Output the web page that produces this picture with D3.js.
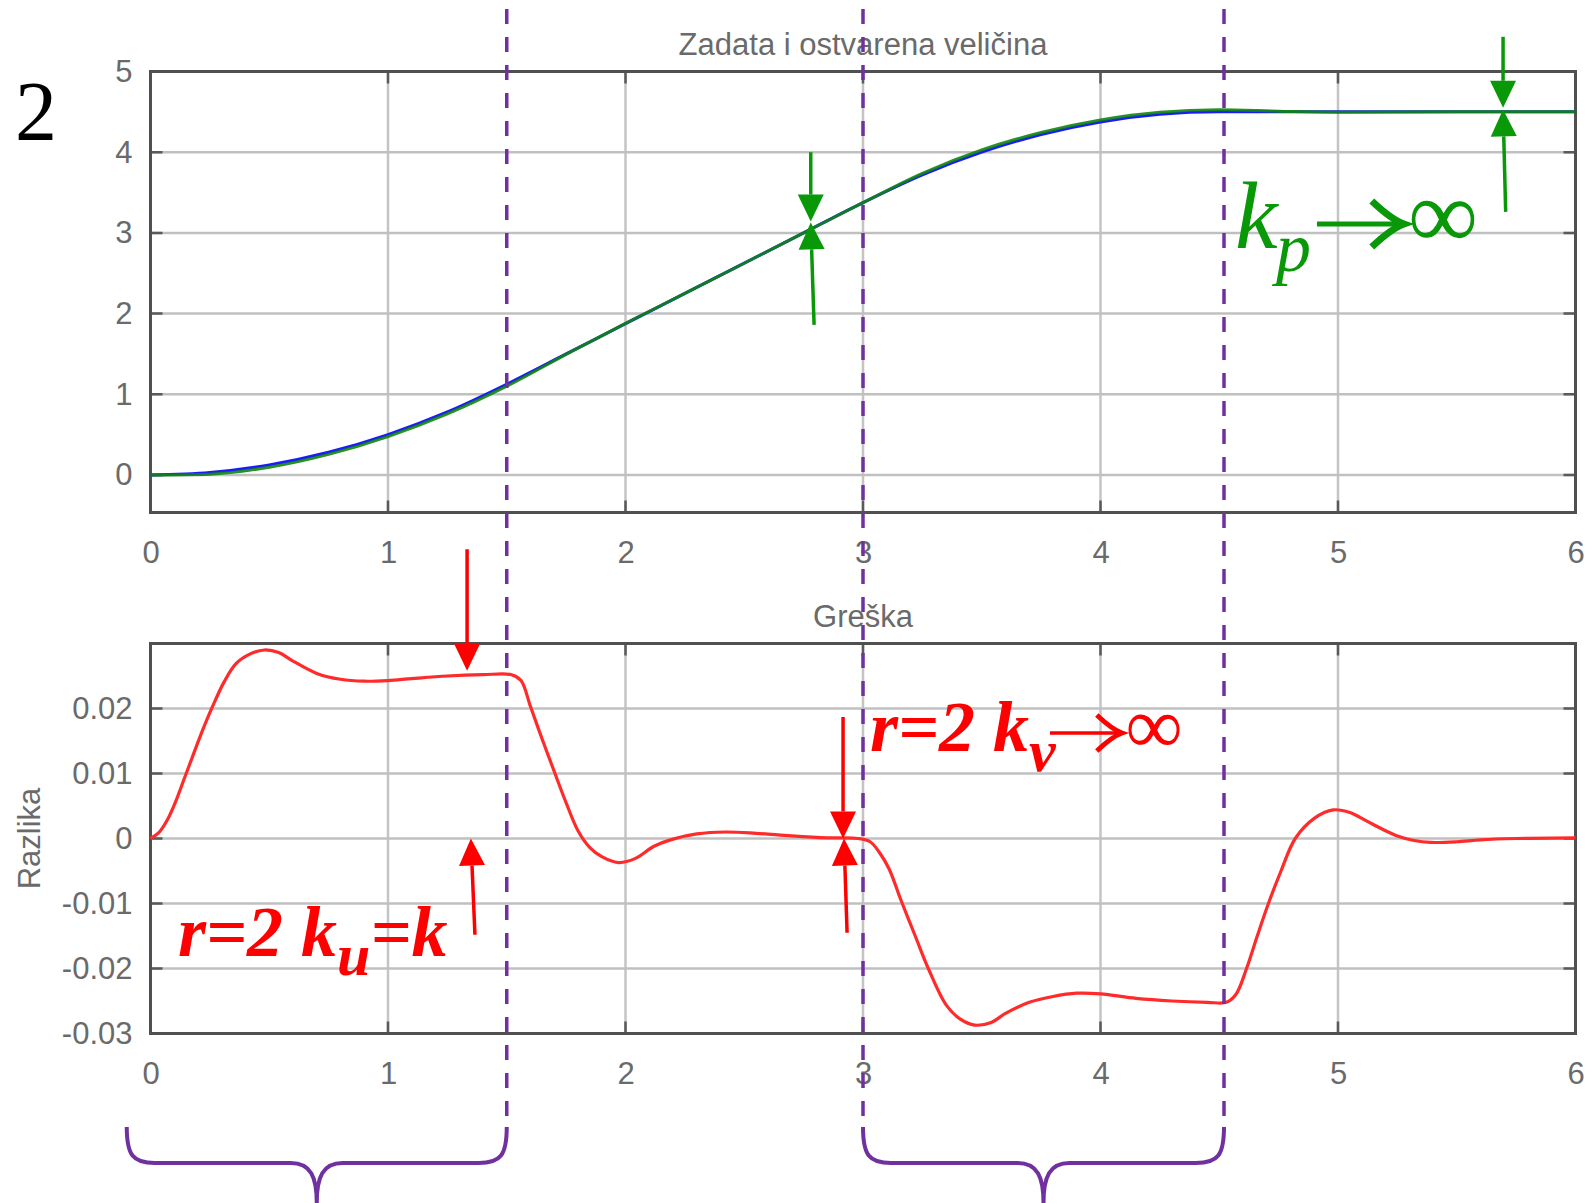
<!DOCTYPE html>
<html><head><meta charset="utf-8">
<script src="https://cdn.jsdelivr.net/npm/d3@7"></script>
<style>body{margin:0;background:#fff}svg{display:block}</style>
</head><body>
<svg id="c" width="1595" height="1203"></svg>
<script>
// ---------------- DATA ----------------
const xLim = [0, 6];
const xTicks = [0, 1, 2, 3, 4, 5, 6];
const topYLim = [-0.465, 5];
const topYTicks = [0, 1, 2, 3, 4, 5];
const botYLim = [-0.03, 0.03];
const botYTicks = [-0.03, -0.02, -0.01, 0, 0.01, 0.02];
const botYTickLabels = ["-0.03", "-0.02", "-0.01", "0", "0.01", "0.02"];
const topTitle = "Zadata i ostvarena veličina";
const botTitle = "Greška";
const botYLabel = "Razlika";
const panelNumber = "2";

// reference (blue) and output (green) in the top panel
const tTop   = [0, 0.25, 0.5, 0.75, 1, 1.25, 1.5, 1.75, 2, 2.25, 2.5, 2.75, 3, 3.25, 3.5, 3.75, 4, 4.25, 4.5, 4.75, 5, 5.5, 6];
const refTop = [0, 0.031, 0.125, 0.281, 0.5, 0.781, 1.125, 1.5, 1.875, 2.25, 2.625, 3.0, 3.375, 3.719, 4.0, 4.219, 4.375, 4.469, 4.5, 4.5, 4.5, 4.5, 4.5];
const outTop = [0, 0.010, 0.096, 0.255, 0.476, 0.756, 1.100, 1.495, 1.879, 2.250, 2.624, 3.000, 3.375, 3.738, 4.028, 4.244, 4.399, 4.494, 4.525, 4.508, 4.496, 4.5005, 4.5];

// error (red) in the bottom panel
const tErr = [0, 0.035, 0.07, 0.105, 0.14, 0.175, 0.21, 0.26, 0.31, 0.36, 0.42, 0.48, 0.54, 0.6, 0.7, 0.8, 0.9, 1.0, 1.1, 1.25, 1.4, 1.52,
  1.56, 1.6, 1.65, 1.7, 1.75, 1.8, 1.85, 1.9, 1.97, 2.04, 2.12, 2.2, 2.3, 2.42, 2.55, 2.7, 2.85, 2.98,
  3.03, 3.07, 3.11, 3.16, 3.22, 3.275, 3.35, 3.41, 3.47, 3.54, 3.6, 3.7, 3.8, 3.9, 4.0, 4.15, 4.3, 4.45, 4.53,
  4.57, 4.615, 4.66, 4.707, 4.76, 4.82, 4.9, 4.98, 5.05, 5.12, 5.2, 5.25, 5.32, 5.39, 5.5, 5.6, 5.75, 6.0];
const errVals = [0, 0.0009, 0.0028, 0.0056, 0.009, 0.0124, 0.0158, 0.0202, 0.0241, 0.0269, 0.0284, 0.029, 0.0286, 0.0273, 0.0254, 0.0245, 0.0242, 0.0243, 0.0246, 0.025, 0.0252, 0.0252,
  0.0243, 0.0203, 0.0152, 0.0103, 0.0055, 0.0012, -0.0014, -0.0028, -0.0037, -0.0031, -0.0012, -0.0001, 0.0007, 0.001, 0.0008, 0.0004, 0.0001, 0,
  -0.0005, -0.0022, -0.0047, -0.0095, -0.015, -0.02, -0.0256, -0.0278, -0.0287, -0.0283, -0.0269, -0.0252, -0.0243, -0.0238, -0.0239, -0.0246, -0.025, -0.0252, -0.0252,
  -0.024, -0.02, -0.015, -0.01, -0.005, 0, 0.0031, 0.0044, 0.004, 0.0027, 0.0012, 0.0004, -0.0003, -0.0006, -0.0005, -0.0002, 0, 0.0001];

// annotations (data coordinates)
const markerTimes = [1.5, 3, 4.52];
const braceSpans = [[-0.1, 1.5], [3, 4.52]];
const greenArrows = [
  {from: [2.78, 4.0],   to: [2.78, 3.14]},
  {from: [2.794, 1.86], to: [2.78, 3.13]},
  {from: [5.695, 5.43], to: [5.695, 4.55]},
  {from: [5.706, 3.26], to: [5.695, 4.53]}
];
const redArrows = [
  {from: [1.333, 0.0445],  to: [1.333, 0.0258]},
  {from: [1.366, -0.0148], to: [1.349, 0.0]},
  {from: [2.916, 0.0187],  to: [2.916, 0.0]},
  {from: [2.933, -0.0145], to: [2.92, 0.0]}
];

// ---------------- LAYOUT ----------------
const L = {left: 150.5, right: 1575.5, topY0: 71.5, topY1: 512.5, botY0: 643.5, botY1: 1033.5};
const SANS = "'Liberation Sans', Arial, Helvetica, sans-serif";
const SERIF = "'Liberation Serif', 'Times New Roman', serif";
const GRAY_TXT = "#6a6a6a";
const GREEN = "#089808";
const RED = "#ff0000";
const PURPLE = "#7030a0";

const svg = d3.select("#c");
svg.append("rect").attr("width", 1595).attr("height", 1203).attr("fill", "#fff");

const x = d3.scaleLinear().domain(xLim).range([L.left, L.right]);
const yT = d3.scaleLinear().domain(topYLim).range([L.topY1, L.topY0]);
const yB = d3.scaleLinear().domain(botYLim).range([L.botY1, L.botY0]);

function panel(y, yTicks, yFmt, y0, y1) {
  const g = svg.append("g");
  g.selectAll(null).data(xTicks.filter(d => d > xLim[0] && d < xLim[1])).join("line")
    .attr("x1", d => x(d)).attr("x2", d => x(d)).attr("y1", y0).attr("y2", y1)
    .attr("stroke", "#c4c4c4").attr("stroke-width", 2.5);
  g.selectAll(null).data(yTicks.filter(d => y(d) < y1 - 2 && y(d) > y0 + 2)).join("line")
    .attr("y1", d => y(d)).attr("y2", d => y(d)).attr("x1", L.left).attr("x2", L.right)
    .attr("stroke", "#c0c0c0").attr("stroke-width", 2.5);
  const tk = 12;
  g.selectAll(null).data(xTicks).join("path")
    .attr("d", d => `M${x(d)},${y0}v${tk}M${x(d)},${y1}v${-tk}`)
    .attr("stroke", "#5a5a5a").attr("stroke-width", 2.5);
  g.selectAll(null).data(yTicks).join("path")
    .attr("d", d => `M${L.left},${y(d)}h${tk}M${L.right},${y(d)}h${-tk}`)
    .attr("stroke", "#5a5a5a").attr("stroke-width", 2.5);
  g.append("rect").attr("x", L.left).attr("y", y0).attr("width", L.right - L.left).attr("height", y1 - y0)
    .attr("fill", "none").attr("stroke", "#505050").attr("stroke-width", 3);

  const ga = g.append("g").attr("transform", `translate(${L.left},0)`)
    .call(d3.axisLeft(y).tickValues(yTicks).tickFormat(yFmt).tickSize(0).tickPadding(18));
  ga.select(".domain").remove();
  ga.attr("font-size", 31).attr("font-family", SANS);
  ga.selectAll("text").attr("fill", GRAY_TXT);

  const gb = g.append("g").attr("transform", `translate(0,${y1})`)
    .call(d3.axisBottom(x).tickValues(xTicks).tickFormat(d3.format("d")).tickSize(0).tickPadding(28));
  gb.select(".domain").remove();
  gb.attr("font-size", 31).attr("font-family", SANS);
  gb.selectAll("text").attr("fill", GRAY_TXT);
  return g;
}

panel(yT, topYTicks, d3.format("d"), L.topY0, L.topY1);
panel(yB, botYTicks, (d, i) => botYTickLabels[i], L.botY0, L.botY1);

// titles
svg.append("text").attr("x", (L.left + L.right) / 2).attr("y", 55).attr("text-anchor", "middle")
  .attr("font-family", SANS).attr("font-size", 31).attr("fill", GRAY_TXT).text(topTitle);
svg.append("text").attr("x", (L.left + L.right) / 2).attr("y", 627).attr("text-anchor", "middle")
  .attr("font-family", SANS).attr("font-size", 31).attr("fill", GRAY_TXT).text(botTitle);
svg.append("text").attr("transform", `translate(40,${(L.botY0 + L.botY1) / 2}) rotate(-90)`)
  .attr("text-anchor", "middle").attr("font-family", SANS).attr("font-size", 31).attr("fill", GRAY_TXT).text(botYLabel);
svg.append("text").attr("x", 36).attr("y", 140).attr("text-anchor", "middle")
  .attr("font-family", SERIF).attr("font-size", 84).attr("fill", "#000").text(panelNumber);

// lines
const lineTop = d3.line().x(d => x(d[0])).y(d => yT(d[1])).curve(d3.curveMonotoneX);
svg.append("path").datum(d3.zip(tTop, refTop)).attr("d", lineTop)
  .attr("fill", "none").attr("stroke", "#1a1aff").attr("stroke-width", 3);
svg.append("path").datum(d3.zip(tTop, outTop)).attr("d", lineTop)
  .attr("fill", "none").attr("stroke", "#0f850f").attr("stroke-width", 3).attr("stroke-opacity", 0.9);

const lineErr = d3.line().x(d => x(d[0])).y(d => yB(d[1])).curve(d3.curveCatmullRom.alpha(0.5));
svg.append("path").datum(d3.zip(tErr, errVals)).attr("d", lineErr)
  .attr("fill", "none").attr("stroke", "#ff2a2a").attr("stroke-width", 3.2);

// dashed markers
svg.selectAll(null).data(markerTimes).join("line")
  .attr("x1", d => x(d)).attr("x2", d => x(d)).attr("y1", 9).attr("y2", 1128)
  .attr("stroke", PURPLE).attr("stroke-width", 3.5).attr("stroke-dasharray", "15,13");

// braces
const bTop = 1127, bMid = 1163, bTip = 1203;
svg.selectAll(null).data(braceSpans).join("path")
  .attr("d", d => {
    const a = x(d[0]), b = x(d[1]), m = (a + b) / 2;
    return `M${a},${bTop} C${a},${bMid - 8} ${a + 6},${bMid} ${a + 28},${bMid}` +
      ` L${m - 26},${bMid} C${m - 6},${bMid} ${m},${bMid + 14} ${m},${bTip}` +
      ` C${m},${bMid + 14} ${m + 6},${bMid} ${m + 26},${bMid}` +
      ` L${b - 28},${bMid} C${b - 6},${bMid} ${b},${bMid - 8} ${b},${bTop}`;
  })
  .attr("fill", "none").attr("stroke", PURPLE).attr("stroke-width", 4);

// arrows with triangular heads
function arrow(p1, p2, color) {
  const dx = p2[0] - p1[0], dy = p2[1] - p1[1], len = Math.hypot(dx, dy);
  const ux = dx / len, uy = dy / len, hl = 27, hw = 13;
  const bx = p2[0] - ux * hl, by = p2[1] - uy * hl;
  svg.append("line").attr("x1", p1[0]).attr("y1", p1[1]).attr("x2", bx).attr("y2", by)
    .attr("stroke", color).attr("stroke-width", 3.5);
  svg.append("path")
    .attr("d", `M${p2[0]},${p2[1]} L${bx - uy * hw},${by + ux * hw} L${bx + uy * hw},${by - ux * hw} Z`)
    .attr("fill", color);
}
greenArrows.forEach(a => arrow([x(a.from[0]), yT(a.from[1])], [x(a.to[0]), yT(a.to[1])], GREEN));
redArrows.forEach(a => arrow([x(a.from[0]), yB(a.from[1])], [x(a.to[0]), yB(a.to[1])], RED));

// "→" glyph drawn as path
function arrowGlyph(x0, x1, y, h, sw, color) {
  const hl = h * 1.4;
  svg.append("line").attr("x1", x0).attr("x2", x1 - 3).attr("y1", y).attr("y2", y)
    .attr("stroke", color).attr("stroke-width", sw);
  svg.append("path")
    .attr("d", `M${x1 - hl},${y - h} Q${x1 - hl * 0.4},${y - h * 0.2} ${x1},${y} Q${x1 - hl * 0.4},${y + h * 0.2} ${x1 - hl},${y + h}`)
    .attr("fill", "none").attr("stroke", color).attr("stroke-width", sw * 1.4).attr("stroke-linejoin", "miter");
}

// green label  k_p → ∞
svg.append("text").attr("x", 1235).attr("y", 248).attr("font-family", SERIF).attr("font-style", "italic")
  .attr("font-size", 96).attr("fill", GREEN).text("k");
svg.append("text").attr("x", 1276).attr("y", 271).attr("font-family", SERIF).attr("font-style", "italic")
  .attr("font-size", 70).attr("fill", GREEN).text("p");
arrowGlyph(1317, 1404, 224, 23, 5, GREEN);
svg.append("text").attr("x", 1443).attr("y", 248).attr("text-anchor", "middle").attr("font-family", SERIF)
  .attr("font-size", 98).attr("fill", GREEN).text("∞");

// red label r=2 k_u=k
const t1 = svg.append("text").attr("x", 178).attr("y", 956).attr("font-family", SERIF)
  .attr("font-style", "italic").attr("font-weight", "bold").attr("font-size", 72).attr("fill", RED);
t1.append("tspan").text("r=2 k");
t1.append("tspan").attr("dy", 19).attr("font-size", 60).text("u");
t1.append("tspan").attr("dy", -19).text("=k");

// red label r=2 k_v → ∞
const t2 = svg.append("text").attr("x", 870).attr("y", 751).attr("font-family", SERIF)
  .attr("font-style", "italic").attr("font-weight", "bold").attr("font-size", 72).attr("fill", RED);
t2.append("tspan").text("r=2 k");
t2.append("tspan").attr("dy", 20).attr("font-size", 60).text("v");
arrowGlyph(1050, 1122, 733, 18, 3.5, RED);
svg.append("text").attr("x", 1154).attr("y", 753).attr("text-anchor", "middle").attr("font-family", SERIF)
  .attr("font-size", 80).attr("fill", RED).text("∞");
</script>
</body></html>
